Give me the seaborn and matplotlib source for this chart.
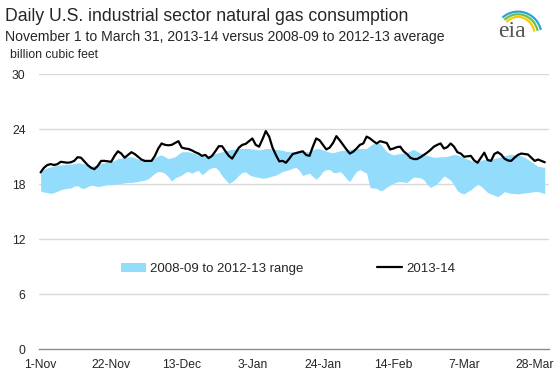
import numpy as np
import pandas as pd
import matplotlib
matplotlib.use('Agg')
import matplotlib.pyplot as plt
import matplotlib.dates as mdates
from matplotlib.patches import Arc
import seaborn as sns

# daily values, Nov 1 2013 .. Mar 31 2014 (bcf)
line_1314 = [19.3, 19.8, 20.1, 20.2, 20.1, 20.2, 20.45, 20.4, 20.35, 20.4,
             20.55, 20.95, 20.9, 20.5, 20.1, 19.8, 19.65, 20.0, 20.55, 20.55,
             20.5, 20.45, 21.1, 21.6, 21.35, 20.9, 21.2, 21.5, 21.3, 21.0,
             20.7, 20.55, 20.55, 20.55, 21.1, 21.9, 22.45, 22.3, 22.25, 22.3,
             22.5, 22.7, 22.0, 21.9, 21.85, 21.7, 21.5, 21.35, 21.1, 21.2,
             20.85, 21.1, 21.6, 22.15, 22.15, 21.6, 21.1, 20.8, 21.4, 22.0,
             22.3, 22.4, 22.7, 23.0, 22.3, 22.1, 22.9, 23.8, 23.2, 22.0,
             21.2, 20.5, 20.55, 20.35, 20.8, 21.3, 21.4, 21.5, 21.6, 21.2,
             21.1, 22.1, 23.0, 22.8, 22.3, 21.8, 22.0, 22.5, 23.25, 22.8,
             22.3, 21.8, 21.35, 21.55, 21.9, 22.3, 22.45, 23.2, 23.0, 22.7,
             22.45, 22.7, 22.6, 22.5, 21.8, 21.9, 22.05, 22.1, 21.6, 21.3,
             20.9, 20.75, 20.75, 20.95, 21.2, 21.45, 21.75, 22.1, 22.3, 22.45,
             21.9, 22.05, 22.45, 22.1, 21.5, 21.35, 21.0, 21.05, 21.1, 20.6,
             20.35, 20.9, 21.45, 20.65, 20.55, 21.3, 21.5, 21.25, 20.8, 20.6,
             20.55, 20.9, 21.2, 21.35, 21.3, 21.25, 20.9, 20.55, 20.7, 20.55,
             20.4]

range_hi = [19.4, 19.6, 19.8, 19.9, 20.0, 20.1, 20.1, 20.15, 20.2, 20.2,
            20.25, 20.35, 20.3, 20.2, 20.1, 20.0, 20.0, 20.15, 20.3, 20.35,
            20.4, 20.45, 20.6, 20.8, 20.85, 20.95, 21.0, 21.0, 20.9, 20.75,
            20.65, 20.65, 20.7, 20.7, 20.9, 21.1, 21.2, 21.0, 20.8, 20.9,
            21.0, 21.3, 21.55, 21.55, 21.55, 21.45, 21.35, 21.2, 21.05, 21.0,
            21.1, 21.25, 21.35, 21.45, 21.55, 21.65, 21.75, 21.8, 21.85, 21.9,
            21.9, 21.9, 21.9, 21.85, 21.8, 21.75, 21.8, 21.9, 21.9, 21.85,
            21.8, 21.75, 21.7, 21.6, 21.55, 21.55, 21.6, 21.65, 21.6, 21.55,
            21.55, 21.75, 21.9, 21.85, 21.75, 21.6, 21.5, 21.45, 21.55, 21.65,
            21.7, 21.75, 21.8, 21.85, 21.9, 21.9, 21.9, 21.9, 22.2, 22.45,
            22.5, 22.45, 22.0, 21.55, 21.35, 21.2, 21.3, 21.35, 21.4, 21.45,
            21.65, 21.8, 21.6, 21.4, 21.25, 21.15, 21.05, 20.95, 20.95, 21.0,
            21.0, 21.05, 21.15, 21.25, 21.2, 21.05, 20.9, 20.75, 20.6, 20.45,
            20.5, 20.6, 20.7, 20.75, 20.75, 20.8, 20.9, 21.0, 21.1, 21.2,
            21.25, 21.25, 21.2, 21.1, 20.95, 20.7, 20.45, 20.2, 19.95, 19.9,
            19.85]

range_lo = [17.25, 17.15, 17.1, 17.0, 17.1, 17.25, 17.4, 17.5, 17.55, 17.6,
            17.8, 17.85, 17.6, 17.55, 17.75, 17.9, 17.85, 17.75, 17.8, 17.9,
            17.95, 17.95, 18.0, 18.05, 18.1, 18.15, 18.2, 18.2, 18.25, 18.3,
            18.4, 18.45, 18.6, 18.9, 19.2, 19.4, 19.35, 19.2, 18.8, 18.35,
            18.7, 18.85, 19.0, 19.3, 19.4, 19.2, 19.4, 19.5, 19.05, 19.3,
            19.65, 19.8, 19.85, 19.5, 18.9, 18.5, 18.1, 18.3, 18.6, 19.0,
            19.3, 19.35, 19.05, 18.9, 18.8, 18.75, 18.65, 18.7, 18.8, 18.9,
            19.0, 19.2, 19.4, 19.5, 19.6, 19.75, 19.85, 19.5, 18.95, 19.1,
            19.2, 18.85, 18.55, 18.9, 19.4, 19.6, 19.6, 19.3, 19.25, 19.4,
            19.1, 18.6, 18.3, 18.9, 19.4, 19.6, 19.4, 19.2, 17.65, 17.6,
            17.55, 17.3, 17.4, 17.7, 17.9, 18.1, 18.25, 18.3, 18.25, 18.2,
            18.5, 18.8, 18.75, 18.7, 18.5, 18.0, 17.65, 17.85, 18.1, 18.5,
            18.9, 18.7, 18.45, 17.9, 17.3, 17.05, 16.95, 17.2, 17.4, 17.7,
            18.0, 17.8, 17.45, 17.1, 16.95, 16.8, 16.65, 16.9, 17.2, 17.1,
            17.0, 17.0, 16.95, 17.0, 17.05, 17.1, 17.15, 17.2, 17.2, 17.1,
            17.0]

dates = pd.date_range('2013-11-01', '2014-03-31', freq='D')
y_ticks = [0, 6, 12, 18, 24, 30]

df = pd.DataFrame({'date': dates, 'val': line_1314, 'hi': range_hi, 'lo': range_lo})

sns.set_style('white')
plt.rcParams['font.family'] = ['Liberation Sans', 'DejaVu Sans']

fig = plt.figure(figsize=(5.6, 3.75), dpi=100)
ax = fig.add_axes([0.0705, 0.0685, 0.9095, 0.7335])

band_col = '#93dcfc'
ax.fill_between(df['date'], df['lo'], df['hi'], color=band_col, lw=0,
                label='2008-09 to 2012-13 range', zorder=2)
sns.lineplot(data=df, x='date', y='val', color='black', lw=1.6, ax=ax,
             label='2013-14', zorder=3)

ax.set_ylim(0, 30)
ax.set_yticks(y_ticks)
ax.set_xlim(dates[0] - pd.Timedelta(hours=8), dates[-1] + pd.Timedelta(days=1.2))
ticks = pd.date_range('2013-11-01', '2014-03-31', freq='21D')
ax.set_xticks(ticks)
ax.xaxis.set_major_formatter(mdates.DateFormatter('%-d-%b'))
ax.set_xlabel('')
ax.set_ylabel('')

for yv in y_ticks[1:]:
    ax.axhline(yv, color='#d9d9d9', lw=1, zorder=1)
for s in ['top', 'right', 'left']:
    ax.spines[s].set_visible(False)
ax.spines['bottom'].set_color('#8c8c8c')
ax.spines['bottom'].set_linewidth(1)
ax.tick_params(axis='x', direction='out', length=4, color='#8c8c8c', width=1,
               labelsize=8.7, pad=3)
ax.tick_params(axis='y', length=0, labelsize=8.7, pad=10)

leg = ax.legend(loc='center left', bbox_to_anchor=(0.216, 0.283),
                bbox_transform=fig.transFigure, ncol=2, frameon=False,
                fontsize=9.5, handlelength=1.9, columnspacing=5.6,
                handletextpad=0.3, borderpad=0, borderaxespad=0)

fig.text(0.009, 0.955, 'Daily U.S. industrial sector natural gas consumption',
         fontsize=12.7, va='center', ha='left')
fig.text(0.009, 0.9, 'November 1 to March 31, 2013-14 versus 2008-09 to 2012-13 average',
         fontsize=10.1, va='center', ha='left')
fig.text(0.018, 0.853, 'billion cubic feet', fontsize=8.8, va='center', ha='left')

# eia logo
fig.text(0.915, 0.915, 'eia', fontsize=17, color='#555555', va='center', ha='center',
         family=['Liberation Serif', 'DejaVu Serif'])
for i, c in enumerate(['#f6c900', '#6dbf4b', '#2aa4dc']):
    arc = Arc((0.925, 0.905), 0.06 + i * 0.012, 0.1 + i * 0.014, angle=0,
              theta1=20, theta2=120, color=c, lw=1.6, transform=fig.transFigure)
    fig.add_artist(arc)

plt.savefig('out.png', dpi=100)
